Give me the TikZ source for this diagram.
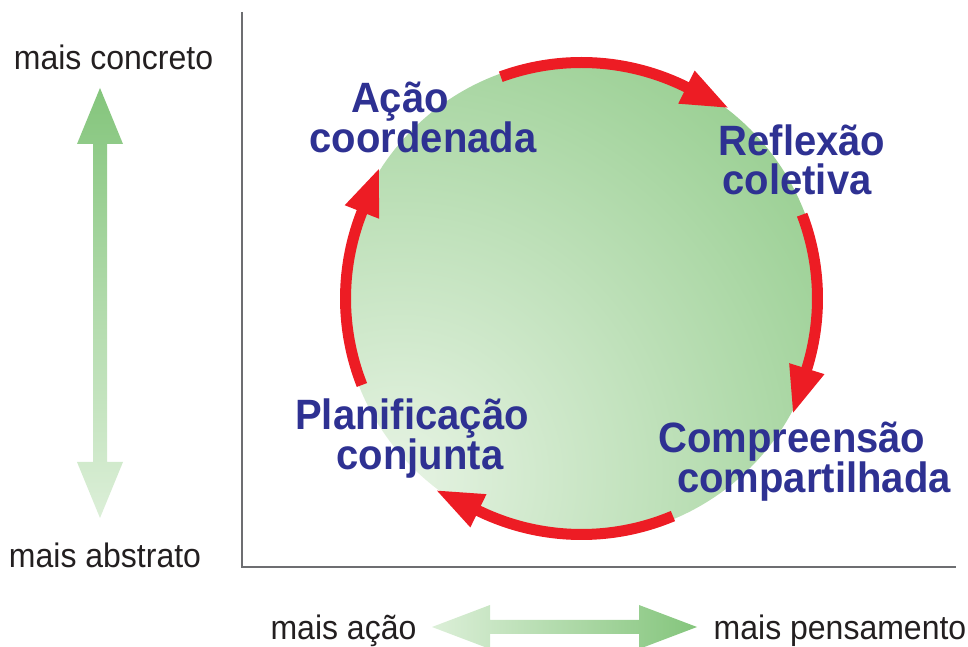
\documentclass[tikz,border=0pt]{standalone}
\usepackage{fontspec}
\setmainfont{Liberation Sans}
\usetikzlibrary{calc}
\definecolor{glight}{HTML}{E6F3E3}
\definecolor{gdark}{HTML}{84C57C}
\definecolor{alight}{HTML}{DCEFD8}
\definecolor{lblue}{HTML}{2E3192}
\definecolor{cred}{HTML}{ED1C24}
\definecolor{axisgray}{HTML}{6D6E71}
\definecolor{txt}{HTML}{231F20}
\pgfdeclareradialshading{greenglow}{\pgfpoint{0bp}{0bp}}{color(0bp)=(glight); color(31bp)=(gdark); color(50bp)=(gdark)}
\newcommand\cyclestep[3]{%
  \draw[cyclearc] ($(C)+(#1:236)$) arc[start angle=#1, end angle={#2-1}, radius=236];
  \coordinate (#3) at ($(C)+(#2:236)$);
  \fill[cyclehead] ($(#3)+(#2:18.5)$) -- ($(#3)+({#2-90}:46)$) -- ($(#3)+({#2+180}:18.5)$) -- cycle;
}
\newcommand\tallt[1]{\scalebox{1}[1.06]{#1}}
\begin{document}
\begin{tikzpicture}[x=1pt,y=1pt,
  stagelabel/.style={text=lblue, font=\fontsize{40}{40}\selectfont\bfseries, anchor=base, inner sep=0pt},
  axislabel/.style={text=txt, font=\fontsize{32}{32}\selectfont, anchor=base, inner sep=0pt},
  axisline/.style={draw=axisgray, line width=1.5pt},
  cyclearc/.style={draw=cred, line width=11pt},
  cyclehead/.style={fill=cred}]
\useasboundingbox (0,0) rectangle (968,647);
\coordinate (C) at (581.5,348.5);
% green disc
\begin{scope}
  \clip (C) circle (239);
  \shade[shading=greenglow] (400,170) circle (525);
\end{scope}
% axes
\coordinate (ytop) at (242,635);
\coordinate (origin) at (242,80);
\coordinate (xend) at (956,80);
\draw[axisline] (ytop) -- (origin) -- (xend);
% cycle arrows
\cyclestep{110}{63.6}{h1}
\cyclestep{20.8}{-17.3}{h2}
\cyclestep{-67.2}{-115.9}{h3}
\cyclestep{201.5}{158.5}{h4}
% vertical double arrow
\shade[top color=gdark, bottom color=alight] (100,559) -- (123,503) -- (107,503) -- (107,185) -- (123,185) -- (100,129) -- (77,185) -- (93,185) -- (93,503) -- (77,503) -- cycle;
% horizontal double arrow
\shade[left color=alight, right color=gdark] (432,20) -- (490,42) -- (490,27) -- (639,27) -- (639,42) -- (697,20) -- (639,-2) -- (639,13) -- (490,13) -- (490,-2) -- cycle;
% stage labels
\node[stagelabel] (acao1) at (400,534) {\tallt{Ação}};
\node[stagelabel] (acao2) at (423,494) {\tallt{coordenada}};
\node[stagelabel] (refl1) at (802,491) {\tallt{Reflexão}};
\node[stagelabel] (refl2) at (797,452) {\tallt{coletiva}};
\node[stagelabel] (comp1) at (792,194) {\tallt{Compreensão}};
\node[stagelabel] (comp2) at (814,154) {\tallt{compartilhada}};
\node[stagelabel] (plan1) at (412,217) {\tallt{Planificação}};
\node[stagelabel] (plan2) at (420,177) {\tallt{conjunta}};
% axis labels
\node[axislabel] (concreto) at (113.5,577) {\tallt{mais concreto}};
\node[axislabel] (abstrato) at (105,79) {\tallt{mais abstrato}};
\node[axislabel] (maisacao) at (343.5,7) {\tallt{mais ação}};
\node[axislabel] (pensamento) at (840,7) {\tallt{mais pensamento}};
\end{tikzpicture}
\end{document}
